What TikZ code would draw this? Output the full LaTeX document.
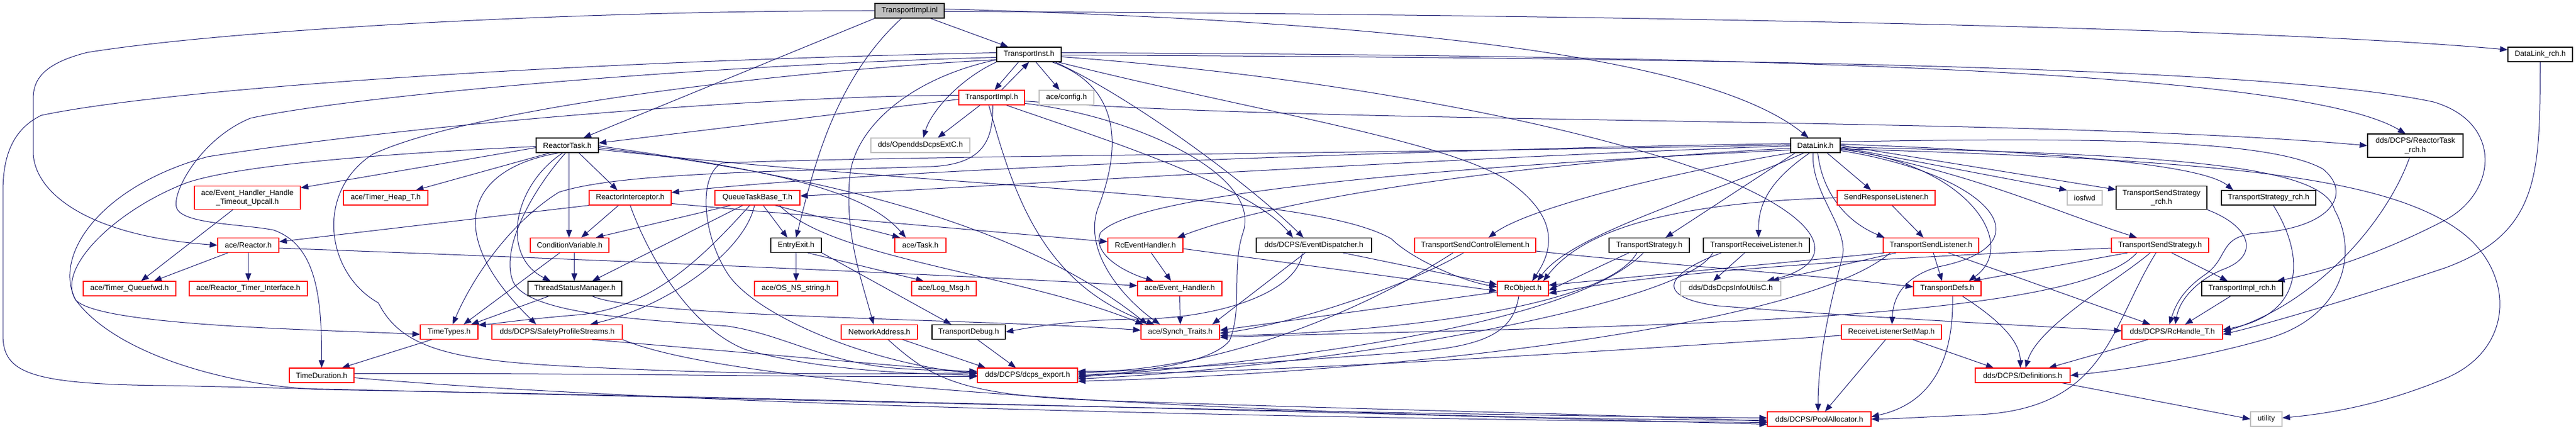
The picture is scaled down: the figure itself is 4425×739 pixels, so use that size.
\documentclass[tikz,border=0pt]{standalone}
\usepackage{fontspec}
\setmainfont{Liberation Sans}
\usetikzlibrary{arrows.meta}
\definecolor{edgec}{HTML}{191970}
\definecolor{grayb}{HTML}{BFBFBF}
\newcommand\nodefont{\fontsize{13}{15.5}\selectfont}
\pgfdeclarelayer{bg}
\pgfdeclarelayer{edges}
\pgfsetlayers{bg,edges,main}
\tikzset{
  nb/.style={draw, rectangle, inner sep=0pt, line width=1.2pt, font=\nodefont, text=black, fill=white, minimum height=25pt},
  blk/.style={nb, draw=black},
  redn/.style={nb, draw=red},
  gry/.style={nb, draw=grayb},
  root/.style={nb, draw=black, fill=grayb},
  two/.style={minimum height=40pt, align=center},
  e/.style={draw=edgec, line width=1pt, -{Triangle[length=13pt,width=10pt]}},
}
\begin{document}
\begin{tikzpicture}[x=1pt,y=-1pt]
\begin{pgfonlayer}{bg}
\fill[white] (0,0) rectangle (4425,739);
\end{pgfonlayer}
\useasboundingbox (0,0) rectangle (4425,739);
% nodes
\node[root, minimum width=119pt] (inl) at (1562.5,18.5) {TransportImpl.inl};
\node[blk, minimum width=111pt] (inst) at (1767.5,93.5) {TransportInst.h};
\node[blk, minimum width=111pt] (dlrch) at (4363.5,93.5) {DataLink\_rch.h};
\node[redn, minimum width=113pt] (impl) at (1703.5,167.5) {TransportImpl.h};
\node[gry, minimum width=94pt] (config) at (1832,167.5) {ace/config.h};
\node[blk, minimum width=107pt] (rtask) at (974.5,249.5) {ReactorTask.h};
\node[gry, minimum width=170pt] (ext) at (1581,249.5) {dds/OpenddsDcpsExtC.h};
\node[blk, minimum width=85pt] (dl) at (3118.5,249.5) {DataLink.h};
\node[blk, two, minimum width=164pt] (rtrch) at (4149,250) {dds/DCPS/ReactorTask\\\_rch.h};
\node[redn, two, minimum width=182pt] (ehtu) at (425,339.5) {ace/Event\_Handler\_Handle\\\_Timeout\_Upcall.h};
\node[redn, minimum width=145pt] (theap) at (662.5,339.5) {ace/Timer\_Heap\_T.h};
\node[redn, minimum width=141pt] (rint) at (1082.5,339.5) {ReactorInterceptor.h};
\node[redn, minimum width=146pt] (qtb) at (1301,339.5) {QueueTaskBase\_T.h};
\node[redn, minimum width=168pt] (srl) at (3240,339.5) {SendResponseListener.h};
\node[gry, minimum width=60pt] (iosfwd) at (3581,339.5) {iosfwd};
\node[blk, two, minimum width=156pt] (tssrch) at (3713,339.5) {TransportSendStrategy\\\_rch.h};
\node[blk, minimum width=162pt] (tsrch) at (3897,339.5) {TransportStrategy\_rch.h};
\node[redn, minimum width=105pt] (reactor) at (426.5,421) {ace/Reactor.h};
\node[redn, minimum width=135pt] (cv) at (978.5,421) {ConditionVariable.h};
\node[blk, minimum width=87pt] (ee) at (1367.5,421) {EntryExit.h};
\node[redn, minimum width=88pt] (task) at (1581,421) {ace/Task.h};
\node[redn, minimum width=129pt] (rceh) at (1967.5,421) {RcEventHandler.h};
\node[blk, minimum width=198pt] (ed) at (2257,421) {dds/DCPS/EventDispatcher.h};
\node[redn, minimum width=208pt] (tsce) at (2534,421) {TransportSendControlElement.h};
\node[blk, minimum width=138pt] (ts) at (2833,421) {TransportStrategy.h};
\node[blk, minimum width=182pt] (trl) at (3017,421) {TransportReceiveListener.h};
\node[redn, minimum width=164pt] (tsl) at (3317,421) {TransportSendListener.h};
\node[redn, minimum width=167pt] (tss) at (3710.5,421) {TransportSendStrategy.h};
\node[redn, minimum width=159pt] (tqfwd) at (222.5,495.5) {ace/Timer\_Queuefwd.h};
\node[redn, minimum width=203pt] (rti) at (426.5,495.5) {ace/Reactor\_Timer\_Interface.h};
\node[blk, minimum width=161pt] (tsm) at (987.5,495.5) {ThreadStatusManager.h};
\node[redn, minimum width=143pt] (osns) at (1367.5,495.5) {ace/OS\_NS\_string.h};
\node[redn, minimum width=111pt] (logmsg) at (1621.5,495.5) {ace/Log\_Msg.h};
\node[redn, minimum width=145pt] (eh) at (2026.5,495.5) {ace/Event\_Handler.h};
\node[redn, minimum width=88pt] (rco) at (2616,495.5) {RcObject.h};
\node[gry, minimum width=172pt] (infou) at (2973,495.5) {dds/DdsDcpsInfoUtilsC.h};
\node[redn, minimum width=116pt] (tdefs) at (3345,495.5) {TransportDefs.h};
\node[blk, minimum width=139pt] (tirch) at (3851.5,495.5) {TransportImpl\_rch.h};
\node[redn, minimum width=99pt] (ttypes) at (771.5,570) {TimeTypes.h};
\node[redn, minimum width=224pt] (sps) at (957,570) {dds/DCPS/SafetyProfileStreams.h};
\node[redn, minimum width=131pt] (na) at (1510.5,570) {NetworkAddress.h};
\node[blk, minimum width=126pt] (tdbg) at (1664,570) {TransportDebug.h};
\node[redn, minimum width=135pt] (synch) at (2027.5,570) {ace/Synch\_Traits.h};
\node[redn, minimum width=172pt] (rlsm) at (3249,570) {ReceiveListenerSetMap.h};
\node[redn, minimum width=173pt] (rch) at (3731.5,570) {dds/DCPS/RcHandle\_T.h};
\node[redn, minimum width=111pt] (tdur) at (552.5,644.5) {TimeDuration.h};
\node[redn, minimum width=172pt] (dcps) at (1765,644.5) {dds/DCPS/dcps\_export.h};
\node[redn, minimum width=163pt] (defs) at (3474.5,644.5) {dds/DCPS/Definitions.h};
\node[redn, minimum width=178pt] (pool) at (3125,719.5) {dds/DCPS/PoolAllocator.h};
\node[gry, minimum width=54pt] (utility) at (3893,719.5) {utility};

\begin{pgfonlayer}{edges}
% root
\draw[e] (inl) -- (inst);
\draw[e] ([yshift=3pt]inl.east) .. controls (2500,40) and (2950,110) .. ([xshift=-12pt]dl.north);
\draw[e] ([yshift=-1pt]inl.east) .. controls (2800,25) and (3900,48) .. ([yshift=8pt]dlrch.west);
\draw[e] (inl.south west) -- ([xshift=28pt]rtask.north);
\draw[e] ([xshift=-14pt]inl.south) .. controls (1430,140) and (1395,300) .. (ee.north);
\draw[e] (inl.west) .. controls (1000,18) and (400,50) .. (150,90) .. controls (70,110) and (57,140) .. (57,170) -- (57,260) .. controls (57,330) and (150,405) .. (reactor.west);
% TransportInst.h
\draw[e] ([xshift=-18pt]inst.south) -- ([xshift=5pt]impl.north);
\draw[e] ([xshift=17pt]impl.north) -- (inst.south);
\draw[e] ([xshift=12pt]inst.south) -- ([xshift=-12pt]config.north);
\draw[e] (inst.south west) .. controls (1650,135) and (1600,190) .. ([xshift=5pt]ext.north);
\draw[e] ([yshift=4pt]inst.south west) .. controls (1560,135) and (1470,220) .. (1460,300) .. controls (1450,400) and (1480,480) .. ([xshift=-10pt]na.north);
\draw[e] ([yshift=3pt]inst.east) .. controls (3000,95) and (3950,120) .. ([xshift=-17pt]rtrch.north);
\draw[e] ([yshift=-1pt]inst.east) .. controls (3000,100) and (3900,115) .. (4180,175) .. controls (4300,210) and (4290,330) .. (4200,378) .. controls (4100,430) and (4000,465) .. ([xshift=60pt]tirch.north);
\draw[e] ([xshift=45pt]inst.south) .. controls (1950,170) and (2150,320) .. ([xshift=-18pt]ed.north);
\draw[e] ([xshift=50pt]inst.south) .. controls (2150,190) and (2480,240) .. (2590,310) .. controls (2690,380) and (2660,440) .. ([xshift=16pt]rco.north);
\draw[e] ([xshift=40pt]inst.south) .. controls (1930,150) and (1925,260) .. (1885,360) .. controls (1860,440) and (1940,520) .. ([xshift=-35pt]synch.north);
\draw[e] ([yshift=-5pt]inst.west) .. controls (1200,112) and (600,165) .. (430,203) .. controls (340,240) and (290,340) .. (305,360) .. controls (320,385) and (420,385) .. (470,395) .. controls (540,420) and (553,500) .. (tdur.north);
\draw[e] ([yshift=3pt]inst.west) .. controls (1000,105) and (300,150) .. (71,198) .. controls (15,225) and (5,280) .. (5,330) -- (5,575) .. controls (5,640) and (50,660) .. (286,662) .. controls (600,668) and (2300,712) .. ([yshift=2pt]pool.west);
\draw[e] ([yshift=-9pt]inst.west) .. controls (1300,125) and (800,190) .. (640,265) .. controls (540,330) and (560,470) .. (650,520) .. controls (690,600) and (780,620) .. (1000,630) .. controls (1300,645) and (1500,642) .. ([yshift=4pt]dcps.west);
\draw[e] ([yshift=-4pt]inst.east) .. controls (2400,140) and (2820,245) .. (2980,315) .. controls (3150,390) and (3150,455) .. ([xshift=62pt]infou.north);
% TransportImpl.h
\draw[e] ([xshift=-20pt]impl.south) -- ([xshift=30pt]ext.north);
\draw[e] ([yshift=-3pt]impl.west) -- ([yshift=4pt]rtask.east);
\draw[e] ([xshift=2pt]impl.south) .. controls (1706,240) and (1690,282) .. (1600,286) .. controls (1300,295) and (1060,298) .. (960,330) .. controls (880,380) and (815,470) .. ([xshift=6pt]ttypes.north);
\draw[e] ([yshift=4pt]impl.west) .. controls (1300,165) and (700,215) .. (357,269) .. controls (170,320) and (90,440) .. (130,515) .. controls (200,610) and (400,665) .. (560,669) .. controls (1200,680) and (2300,708) .. ([yshift=-9pt]pool.west);
\draw[e] ([yshift=-6pt]impl.east) .. controls (2300,215) and (3500,200) .. (rtrch.west);
\draw[e] ([xshift=25pt]impl.south) .. controls (1900,240) and (2150,320) .. ([xshift=-36pt]ed.north);
\draw[e] ([xshift=-5pt]impl.south) .. controls (1740,330) and (1790,490) .. ([xshift=-45pt]synch.north);
\draw[e] ([yshift=-10pt]impl.east) .. controls (1950,200) and (2170,300) .. (2135,400) .. controls (2115,460) and (2135,530) .. (2112,585) .. controls (2080,625) and (1950,640) .. ([yshift=-1pt]dcps.east);
% ReactorTask.h
\draw[e] ([yshift=-4pt]rtask.west) -- ([yshift=17pt]ehtu.east);
\draw[e] ([yshift=-2pt]rtask.west) .. controls (700,262) and (420,280) .. (320,314) .. controls (200,360) and (95,460) .. (130,515) .. controls (170,560) and (550,566) .. ([yshift=-4pt]ttypes.west);
\draw[e] ([xshift=-30pt]rtask.south) -- ([xshift=52pt]theap.north);
\draw[e] ([xshift=-15pt]rtask.south) .. controls (800,290) and (760,400) .. ([xshift=-36pt]sps.north);
\draw[e] ([xshift=-3pt]rtask.south) .. controls (920,320) and (860,420) .. (880,480) .. controls (900,540) and (1100,548) .. (1250,560) .. controls (1350,575) and (1420,625) .. (1550,633) .. controls (1600,636) and (1640,637) .. ([yshift=7pt]dcps.west);
\draw[e] ([xshift=-8pt]rtask.south) .. controls (880,320) and (860,440) .. ([xshift=-42pt]tsm.north);
\draw[e] ([xshift=3pt]rtask.south) -- ([xshift=-1pt]cv.north);
\draw[e] ([xshift=20pt]rtask.south) -- ([xshift=-22pt]rint.north);
\draw[e] ([yshift=-1pt]rtask.east) .. controls (1300,290) and (1480,320) .. ([xshift=-25pt]task.north);
\draw[e] ([yshift=-4pt]rtask.east) .. controls (1400,300) and (1750,380) .. ([xshift=-57pt]synch.north);
\draw[e] ([yshift=-7pt]rtask.east) .. controls (1700,330) and (2250,330) .. (2390,410) .. controls (2420,440) and (2500,480) .. ([yshift=3pt]rco.west);
% Timeout upcall, Reactor
\draw[e] ([xshift=-25pt]ehtu.south) -- ([xshift=20pt]tqfwd.north);
\draw[e] ([xshift=-35pt]reactor.south) -- ([xshift=42pt]tqfwd.north);
\draw[e] (reactor.south) -- (rti.north);
\draw[e] ([yshift=-5pt]reactor.east) .. controls (1000,445) and (1600,470) .. ([yshift=5pt]eh.west);
% ReactorInterceptor.h
\draw[e] (rint.south west) -- ([yshift=6pt]reactor.east);
\draw[e] ([xshift=-20pt]rint.south) -- ([xshift=20pt]cv.north);
\draw[e] ([yshift=-10pt]rint.east) -- ([yshift=6pt]rceh.west);
\draw[e] (rint.south) .. controls (1110,430) and (1180,560) .. (1280,600) .. controls (1420,640) and (1600,642) .. (dcps.west);
% QueueTaskBase_T.h
\draw[e] ([xshift=-45pt]qtb.south) -- ([xshift=45pt]cv.north);
\draw[e] ([xshift=-25pt]qtb.south) -- ([xshift=30pt]tsm.north);
\draw[e] ([xshift=-13pt]qtb.south) .. controls (1200,450) and (1120,525) .. (1000,540) .. controls (900,548) and (850,556) .. ([yshift=12pt]ttypes.east);
\draw[e] ([xshift=-5pt]qtb.south) .. controls (1280,430) and (1150,525) .. ([xshift=57pt]sps.north);
\draw[e] ([xshift=10pt]qtb.south) -- ([xshift=-15pt]ee.north);
\draw[e] ([xshift=30pt]qtb.south) -- ([xshift=-35pt]task.north);
\draw[e] ([xshift=38pt]qtb.south) .. controls (1430,445) and (1750,470) .. ([xshift=-64pt]synch.north);
% EntryExit.h
\draw[e] (ee.south) -- (osns.north);
\draw[e] ([xshift=20pt]ee.south) -- ([xshift=-35pt]logmsg.north);
\draw[e] (ee.south east) -- ([xshift=-30pt]tdbg.north);
% ConditionVariable, ThreadStatusManager, TimeTypes, ...
\draw[e] ([xshift=8pt]cv.south) -- ([xshift=-1pt]tsm.north);
\draw[e] ([xshift=-17pt]cv.south) -- ([xshift=25pt]ttypes.north);
\draw[e] ([xshift=-45pt]tsm.south) -- ([xshift=38pt]ttypes.north);
\draw[e] ([xshift=30pt]tsm.south) .. controls (1100,545) and (1700,548) .. ([yshift=3pt]synch.west);
\draw[e] ([xshift=60pt]sps.south) -- ([yshift=5pt]dcps.west);
\draw[e] (sps.south east) .. controls (1300,680) and (2400,720) .. ([yshift=-2pt]pool.west);
\draw[e] ([xshift=-30pt]ttypes.south) -- ([xshift=35pt]tdur.north);
\draw[e] ([yshift=-4pt]tdur.east) .. controls (1200,700) and (2400,720) .. ([yshift=-6pt]pool.west);
\draw[e] ([yshift=3pt]tdur.east) .. controls (1000,640) and (1400,648) .. ([yshift=-2pt]dcps.west);
\draw[e] ([xshift=40pt]na.south) -- ([xshift=-72pt]dcps.north);
\draw[e] ([xshift=15pt]na.south) .. controls (1600,650) and (1650,680) .. (1900,688) .. controls (2400,705) and (2800,712) .. ([yshift=-4pt]pool.west);
\draw[e] ([xshift=15pt]tdbg.south) -- ([xshift=-20pt]dcps.north);
% Event handler family
\draw[e] (eh.south) -- (synch.north);
\draw[e] ([xshift=10pt]rceh.south) -- ([xshift=-15pt]eh.north);
\draw[e] ([yshift=-6pt]rceh.east) -- ([yshift=-4pt]rco.west);
\draw[e] ([xshift=50pt]ed.south) -- ([yshift=7pt]rco.west);
\draw[e] ([xshift=-15pt]ed.south) -- ([xshift=55pt]synch.north);
\draw[e] ([xshift=-20pt]ed.south) .. controls (2230,500) and (2100,547) .. (1950,548) .. controls (1850,549) and (1780,560) .. (tdbg.east);
% RcObject.h
\draw[e] ([xshift=-7pt]rco.south) .. controls (2600,560) and (2570,590) .. (2450,602) .. controls (2200,622) and (1950,636) .. ([yshift=4pt]dcps.east);
\draw[e] ([yshift=-6pt]rco.west) -- ([yshift=3pt]synch.east);
% TransportSendControlElement.h
\draw[e] ([yshift=-10pt]tsce.east) .. controls (2800,450) and (3100,470) .. ([yshift=3pt]tdefs.west);
\draw[e] ([xshift=-38pt]tsce.south) .. controls (2300,560) and (2050,640) .. ([yshift=7pt]dcps.east);
\draw[e] ([xshift=-20pt]tsce.south) .. controls (2400,500) and (2200,560) .. ([yshift=-2pt]synch.east);
% TransportStrategy.h
\draw[e] ([xshift=-35pt]ts.south) -- ([yshift=-3pt]rco.east);
\draw[e] ([xshift=-21pt]ts.south) .. controls (2750,540) and (2300,575) .. ([yshift=-6pt]synch.east);
\draw[e] ([xshift=-10pt]ts.south) .. controls (2700,560) and (2200,620) .. ([yshift=-3pt]dcps.east);
% TransportReceiveListener.h
\draw[e] ([xshift=-20pt]trl.south) -- ([xshift=-30pt]infou.north);
\draw[e] ([xshift=-60pt]trl.south) .. controls (2860,470) and (2840,510) .. (2950,525) .. controls (3200,545) and (3500,560) .. ([yshift=2pt]rch.west);
\draw[e] ([xshift=-75pt]trl.south) .. controls (2900,520) and (2300,630) .. ([yshift=-6pt]dcps.east);
% TransportSendListener.h
\draw[e] ([xshift=4pt]tsl.south) -- ([xshift=-9pt]tdefs.north);
\draw[e] ([xshift=30pt]tsl.south) -- ([xshift=-38pt]rch.north);
\draw[e] ([xshift=-80pt]tsl.south) -- ([yshift=6pt]rco.east);
\draw[e] ([xshift=-60pt]tsl.south) -- ([xshift=70pt]infou.north);
\draw[e] ([xshift=-70pt]tsl.south) .. controls (3100,560) and (2400,640) .. ([yshift=-10pt]dcps.east);
% TransportSendStrategy.h
\draw[e] ([xshift=20pt]tss.south) -- ([xshift=-25pt]tirch.north);
\draw[e] ([xshift=-56pt]tss.south) -- ([xshift=44pt]tdefs.north);
\draw[e] ([xshift=-17pt]tss.south) .. controls (3640,480) and (3500,560) .. ([xshift=5pt]defs.north);
\draw[e] ([xshift=-7pt]tss.south) .. controls (3625,560) and (3620,700) .. (3400,712) .. controls (3300,716) and (3260,719) .. (pool.east);
\draw[e] ([xshift=-40pt]tss.south) .. controls (3560,560) and (2700,560) .. ([yshift=-9pt]synch.east);
\draw[e] ([yshift=-5pt]tss.west) .. controls (3300,440) and (2900,460) .. ([yshift=-8pt]rco.east);
% SendResponseListener.h
\draw[e] ([xshift=10pt]srl.south) -- ([xshift=-13pt]tsl.north);
\draw[e] (srl.west) .. controls (2800,350) and (2700,420) .. ([xshift=35pt]rco.north);
% ReceiveListenerSetMap.h
\draw[e] ([xshift=-10pt]rlsm.south) -- ([xshift=10pt]pool.north);
\draw[e] ([xshift=37pt]rlsm.south) -- ([xshift=-50pt]defs.north);
\draw[e] ([yshift=-6pt]rlsm.west) .. controls (2800,600) and (2200,640) .. ([yshift=2pt]dcps.east);
% TransportDefs.h
\draw[e] ([xshift=26pt]tdefs.south) .. controls (3420,540) and (3470,580) .. ([xshift=-4pt]defs.north);
\draw[e] ([xshift=9pt]tdefs.south) .. controls (3356,600) and (3330,690) .. ([yshift=4pt]pool.east);
% rch family
\draw[e] ([xshift=-20pt]tirch.south) -- ([xshift=22pt]rch.north);
\draw[e] (tssrch.south east) .. controls (3870,390) and (3880,440) .. (3820,462) .. controls (3780,478) and (3745,510) .. ([xshift=5pt]rch.north);
\draw[e] ([xshift=8pt]tsrch.south) .. controls (3960,440) and (3960,540) .. ([yshift=4pt]rch.east);
\draw[e] ([xshift=-10pt]rtrch.south) .. controls (4100,380) and (3980,520) .. (rch.east);
\draw[e] (dlrch.south) .. controls (4363,300) and (4363,400) .. (4200,460) .. controls (4050,510) and (3900,555) .. ([yshift=-4pt]rch.east);
\draw[e] ([xshift=-42pt]rch.south) -- ([xshift=45pt]defs.north);
\draw[e] ([xshift=68pt]defs.south) -- (utility.west);
% DataLink.h
\draw[e] ([yshift=3pt]dl.west) .. controls (2500,255) and (1500,290) .. ([yshift=9pt]rint.east);
\draw[e] ([yshift=-1pt]dl.west) .. controls (2500,270) and (1700,320) .. ([yshift=3pt]qtb.east);
\draw[e] ([yshift=-5pt]dl.west) .. controls (2600,280) and (2200,340) .. ([xshift=55pt]rceh.north);
\draw[e] ([yshift=-8pt]dl.west) .. controls (2500,285) and (1950,330) .. (1890,400) .. controls (1875,440) and (1940,470) .. ([xshift=-45pt]eh.north);
\draw[e] ([yshift=1pt]dl.west) .. controls (2500,262) and (1500,268) .. (1240,280) .. controls (1200,300) and (1205,400) .. (1250,470) .. controls (1300,545) and (1500,625) .. ([yshift=3pt]dcps.west);
\draw[e] (dl.south west) .. controls (2850,300) and (2620,360) .. ([xshift=23pt]tsce.north);
\draw[e] ([xshift=-35pt]dl.south) -- ([xshift=28pt]ts.north);
\draw[e] ([xshift=-20pt]dl.south) .. controls (2950,330) and (2700,400) .. ([xshift=25pt]rco.north);
\draw[e] ([xshift=-10pt]dl.south) .. controls (3040,310) and (3020,350) .. ([xshift=4pt]trl.north);
\draw[e] ([xshift=-4pt]dl.south) .. controls (3110,330) and (3175,390) .. (3165,440) .. controls (3150,500) and (3123,600) .. ([xshift=-2pt]pool.north);
\draw[e] ([xshift=4pt]dl.south) .. controls (3130,330) and (3170,380) .. ([xshift=-80pt]tsl.north);
\draw[e] ([xshift=20pt]dl.south) -- ([xshift=-26pt]srl.north);
\draw[e] ([yshift=-3pt]dl.east) -- (iosfwd.north west);
\draw[e] (dl.east) -- ([yshift=14pt]tssrch.west);
\draw[e] ([yshift=2pt]dl.east) .. controls (3500,260) and (3780,280) .. ([xshift=-61pt]tsrch.north);
\draw[e] ([yshift=-5pt]dl.east) .. controls (3400,300) and (3520,360) .. ([xshift=-40pt]tss.north);
\draw[e] ([yshift=-7pt]dl.east) .. controls (3380,280) and (3470,420) .. ([xshift=37pt]tdefs.north);
\draw[e] ([yshift=-9pt]dl.east) .. controls (3420,300) and (3520,420) .. (3330,458) .. controls (3270,475) and (3252,510) .. ([xshift=1pt]rlsm.north);
\draw[e] ([yshift=6pt]dl.east) .. controls (3600,235) and (3900,240) .. (3990,290) .. controls (4040,330) and (4010,390) .. (3880,400) .. controls (3810,405) and (3830,440) .. (3790,470) .. controls (3745,500) and (3735,530) .. ([xshift=-5pt]rch.north);
\draw[e] ([yshift=-3pt]dl.east) .. controls (3700,265) and (3990,280) .. (4010,360) .. controls (4050,430) and (4030,540) .. (3900,580) .. controls (3780,615) and (3650,635) .. (defs.east);
\draw[e] ([yshift=-6pt]dl.east) .. controls (3800,275) and (4100,300) .. (4230,400) .. controls (4320,470) and (4320,600) .. (4200,650) .. controls (4080,700) and (3980,712) .. ([yshift=2pt]utility.east);
\end{pgfonlayer}
\end{tikzpicture}
\end{document}
